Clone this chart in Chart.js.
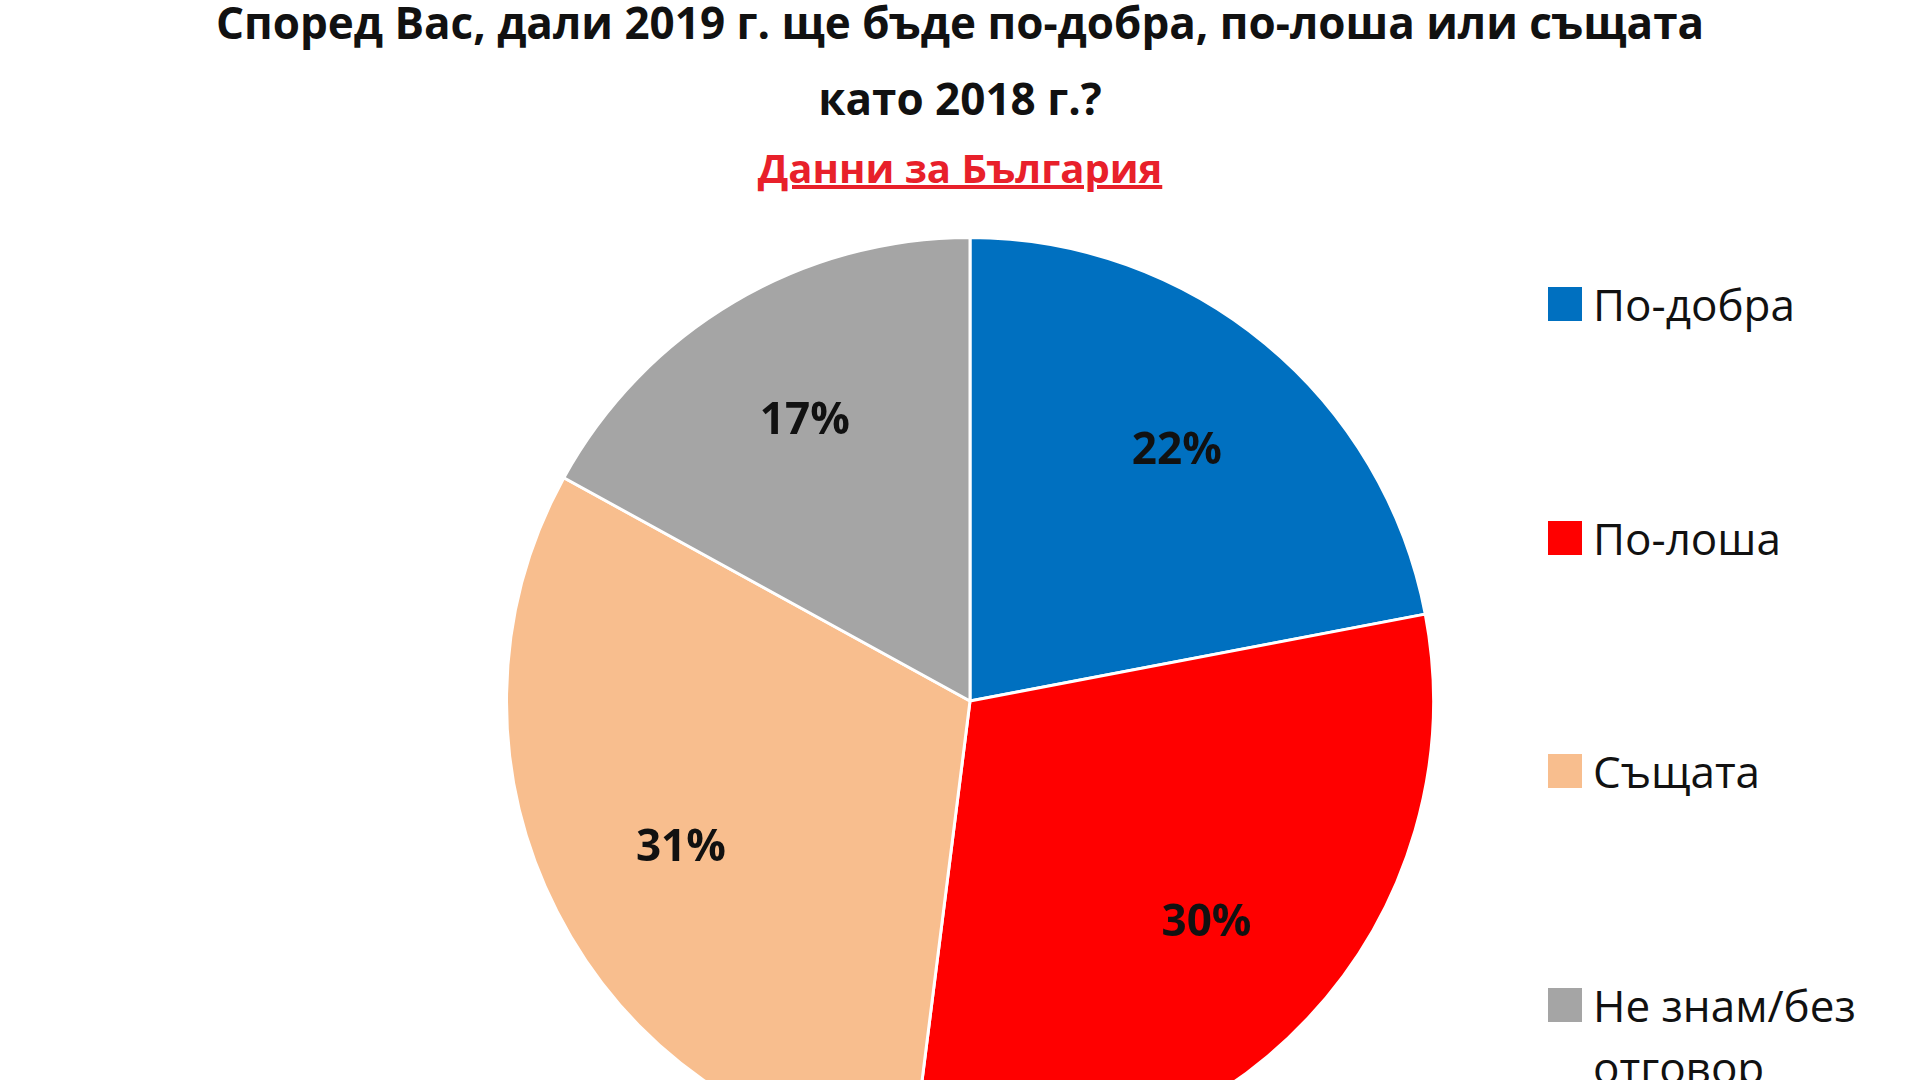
<!DOCTYPE html>
<html><head><meta charset="utf-8">
<script src="https://cdn.jsdelivr.net/npm/chart.js@4"></script>
<style>
html,body{margin:0;padding:0;width:1920px;height:1080px;overflow:hidden;background:#fff;font-family:"Open Sans","Noto Sans",sans-serif;}
.t{position:absolute;left:0;width:1920px;text-align:center;font-weight:bold;color:#111;}
.leg{position:absolute;left:1548px;font-size:44px;color:#111;line-height:62px;}
.sw{position:absolute;left:1548px;width:34px;height:34px;}
#pie{position:absolute;left:505px;top:236px;}
</style></head><body>
<div class="t" style="top:-8px;font-size:44px;">Според Вас, дали 2019 г. ще бъде по-добра, по-лоша или същата</div>
<div class="t" style="top:68px;font-size:44px;">като 2018 г.?</div>
<div class="t" style="top:140px;font-size:40px;color:#e8202a;text-decoration:underline;">Данни за България</div>
<canvas id="pie" width="930" height="930"></canvas>
<div id="legend"></div>
<script>
const categories=["По-добра","По-лоша","Същата","Не знам/без отговор"];
const values=[22,30,31,17];
const colors=["#0070C0","#FF0000","#F8BE8E","#A5A5A5"];
const legendY=[304,538,771,1005];
const lg=document.getElementById('legend');
categories.forEach((c,i)=>{
  const s=document.createElement('div');s.className='sw';s.style.top=(legendY[i]-17)+'px';s.style.background=colors[i];lg.appendChild(s);
  const t=document.createElement('div');t.className='leg';t.style.left='1593px';t.style.top=(legendY[i]-31)+'px';
  if(i===3){t.innerHTML='Не знам/без<br>отговор';}else t.textContent=c;
  lg.appendChild(t);
});
const labelPlugin={id:'lbl',afterDatasetsDraw(ch){
  const ctx=ch.ctx;const meta=ch.getDatasetMeta(0);
  ctx.save();ctx.font='bold 44px "Open Sans", sans-serif';ctx.fillStyle='#111';ctx.textAlign='center';ctx.textBaseline='middle';
  meta.data.forEach((a,i)=>{const m=(a.startAngle+a.endAngle)/2;const r=a.outerRadius*0.7;
    ctx.fillText(values[i]+'%',a.x+Math.cos(m)*r,a.y+Math.sin(m)*r);});
  ctx.restore();}};
new Chart(document.getElementById('pie'),{type:'pie',
 data:{labels:categories,datasets:[{data:values,backgroundColor:colors,borderColor:'#fff',borderWidth:3}]},
 options:{responsive:false,devicePixelRatio:1,animation:false,layout:{padding:0},
  plugins:{legend:{display:false},tooltip:{enabled:false}}},
 plugins:[labelPlugin]});
</script></body></html>
